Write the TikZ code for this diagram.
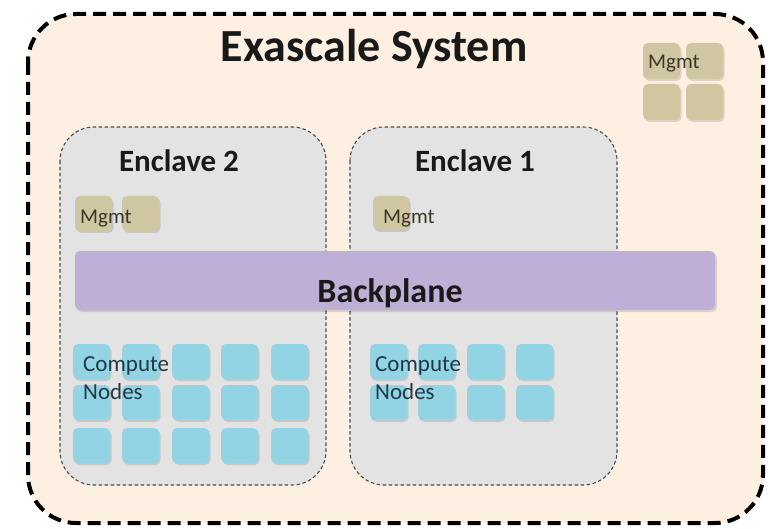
\documentclass[tikz,border=0pt]{standalone}
\usepackage{fontspec}
\setmainfont{Carlito}
\definecolor{outerfill}{HTML}{FDEFE2}
\definecolor{enclfill}{HTML}{E3E3E3}
\definecolor{bpfill}{HTML}{BFAED6}
\definecolor{mgmtfill}{HTML}{CFC6A2}
\definecolor{compfill}{HTML}{92D4E3}
\definecolor{comptext}{HTML}{1E3A48}
\definecolor{mgmttext}{HTML}{3A3628}
\begin{document}
\begin{tikzpicture}[x=1pt,y=-1pt,
  outerbox/.style={draw=black,line width=4pt,dash pattern=on 13pt off 7pt,fill=outerfill,rounded corners=48pt},
  enclbox/.style={draw=black!70,line width=1.1pt,dash pattern=on 3.5pt off 2.5pt,fill=enclfill,rounded corners=34pt},
  bpbox/.style={fill=bpfill,rounded corners=5pt},
  mgmtbox/.style={fill=mgmtfill,rounded corners=5pt},
  compbox/.style={fill=compfill,rounded corners=5pt},
  shadowbox/.style={fill=black,opacity=0.12,rounded corners=5pt},
  titletext/.style={font=\fontsize{46}{50}\selectfont\bfseries,text=black!90,inner sep=0pt,anchor=base},
  encltext/.style={font=\fontsize{31}{34}\selectfont\bfseries,text=black!90,inner sep=0pt,anchor=base},
  bptext/.style={font=\fontsize{34}{38}\selectfont\bfseries,text=black!90,inner sep=0pt,anchor=base},
  mgmtlabel/.style={font=\fontsize{21}{24}\selectfont,text=mgmttext,inner sep=0pt,anchor=base west},
  complabel/.style={font=\fontsize{23}{28}\selectfont,text=comptext,inner sep=0pt,anchor=base west,align=left}
]
\useasboundingbox (0,0) rectangle (770,529);
\fill[white] (0,0) rectangle (770,529);
% outer system
\draw[outerbox] (28,14) rectangle (763,523);
\node[titletext] (title) at (374,62) {Exascale System};
% system mgmt
\foreach \x in {643,686}{
  \foreach \y in {43,84}{
    \fill[shadowbox] (\x+1.5,\y+2) rectangle +(37,36);
    \fill[mgmtbox] (\x,\y) rectangle +(37,36);
  }
}
\node[mgmtlabel] (sysmgmt) at (648,69) {Mgmt};
% enclaves
\draw[enclbox] (60,127) rectangle (326,485);
\draw[enclbox] (350,127) rectangle (617,485);
\node[encltext] (e2title) at (179,172) {Enclave 2};
\node[encltext] (e1title) at (475,172) {Enclave 1};
% enclave mgmt
\foreach \x in {75,122}{
  \fill[shadowbox] (\x+1.5,196+2) rectangle +(37,35);
  \fill[mgmtbox] (\x,196) rectangle +(37,35);
}
\node[mgmtlabel] (e2mgmt) at (80,223) {Mgmt};
\fill[shadowbox] (374.5,198) rectangle +(36,34);
\fill[mgmtbox] (373,196) rectangle +(36,34);
\node[mgmtlabel] (e1mgmt) at (383,223) {Mgmt};
% backplane
\fill[shadowbox] (77,253) rectangle (717,312);
\fill[bpbox] (75,251) rectangle (715,310);
\node[bptext] (bp) at (390,302) {Backplane};
% compute nodes enclave 2
\foreach \x in {73,122,172,221,271}{
  \foreach \y in {344,385,428}{
    \fill[shadowbox] (\x+1.5,\y+2) rectangle +(37,35);
    \fill[compbox] (\x,\y) rectangle +(37,35);
  }
}
\node[complabel] (e2comp) at (83,399) {Compute\\Nodes};
% compute nodes enclave 1
\foreach \x in {370,418,467,516}{
  \foreach \y in {344,385}{
    \fill[shadowbox] (\x+1.5,\y+2) rectangle +(37,35);
    \fill[compbox] (\x,\y) rectangle +(37,35);
  }
}
\node[complabel] (e1comp) at (375,399) {Compute\\Nodes};
\end{tikzpicture}
\end{document}
